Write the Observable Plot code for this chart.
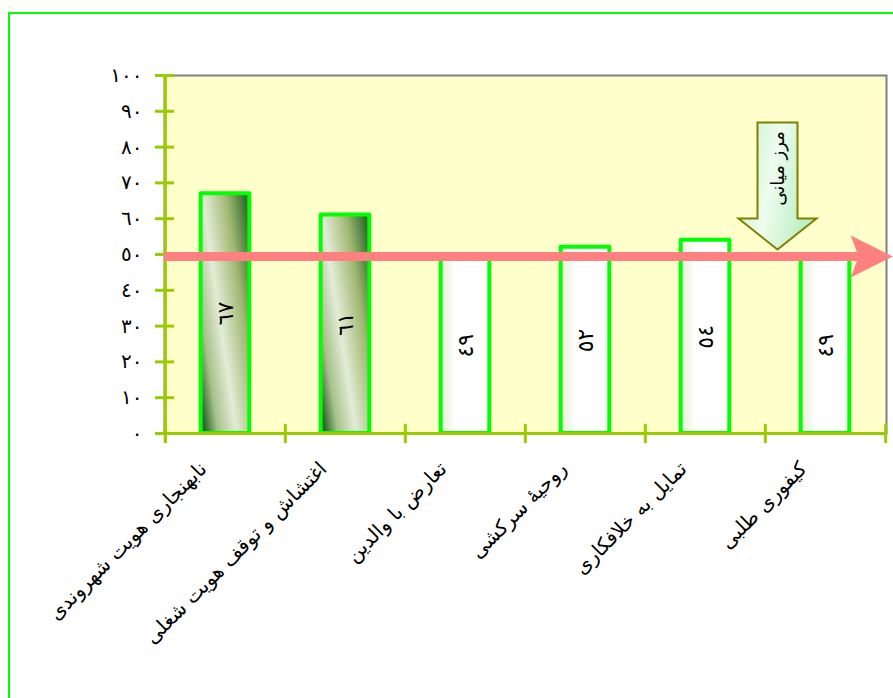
<!DOCTYPE html>
<html><head><meta charset="utf-8">
<script src="https://cdn.jsdelivr.net/npm/d3@7"></script>
<script src="https://cdn.jsdelivr.net/npm/@observablehq/plot@0.6"></script>
<style>
html,body{margin:0;padding:0;background:#fff;overflow:hidden;width:893px;height:698px}
#chart{position:absolute;left:0;top:0}
#border{position:absolute;left:8px;top:12px;width:1000px;height:1000px;border:2px solid #00ff00;box-sizing:border-box;pointer-events:none}
</style></head><body>
<div id="chart"></div><div id="border"></div>
<script>
// ---- data ----
const categories = ["نابهنجاری هویت شهروندی","اغتشاش و توقف هویت شغلی","تعارض با والدین","روحیهٔ سرکشی","تمایل به خلافکاری","کیفوری طلبی"];
const values = [67, 61, 49, 52, 54, 49];
const highlighted = [true, true, false, false, false, false];
const yTicks = [0, 10, 20, 30, 40, 50, 60, 70, 80, 90, 100];
const midpoint = 50;
const midpointLabel = "مرز میانی";
const calloutCategory = "کیفوری طلبی";

// ---- helpers ----
const digits = "٠١٢٣٤٥٦٧٨٩";
const ar = n => String(n).replace(/\d/g, d => digits[d]);
const data = categories.map((c, i) => ({c, v: values[i], h: highlighted[i]}));

const W = 893, H = 698;
const mL = 164, mR = 7, mT = 75, mB = 265;
const step = (W - mL - mR) / categories.length;
const inset = (step - 49) / 2;
const font = "'DejaVu Sans', sans-serif";

const headRight = {draw(ctx) {
  ctx.moveTo(21, 0); ctx.lineTo(-21, -21); ctx.lineTo(-13, 0); ctx.lineTo(-21, 21); ctx.closePath();
}};
const blockDown = {draw(ctx) {
  ctx.moveTo(-20, -127); ctx.lineTo(20, -127); ctx.lineTo(20, -31); ctx.lineTo(39, -31);
  ctx.lineTo(0, 0); ctx.lineTo(-39, -31); ctx.lineTo(-20, -31); ctx.closePath();
}};

const axisGreen = "#99cc00";

const chart = Plot.plot({
  width: W, height: H,
  marginLeft: mL, marginRight: mR, marginTop: mT, marginBottom: mB,
  style: {fontFamily: font, background: "transparent"},
  x: {domain: categories, padding: 0, axis: null},
  y: {domain: [0, 100], axis: null},
  marks: [
    Plot.frame({fill: "#ffffcc", stroke: "#808080", strokeWidth: 2}),
    Plot.rectY(data, {filter: d => d.h, x: "c", y: "v", fill: "url(#barDark)", stroke: "#00ff00", strokeWidth: 4, strokeLinejoin: "round", insetLeft: inset, insetRight: inset}),
    Plot.rectY(data, {filter: d => !d.h, x: "c", y: "v", fill: "url(#barLight)", stroke: "#00ff00", strokeWidth: 4, strokeLinejoin: "round", insetLeft: inset, insetRight: inset}),
    Plot.text(data, {x: "c", y: d => d.v / 2, text: d => ar(d.v), rotate: -90, fontSize: 22, fill: "#000"}),
    // axes lines and ticks
    Plot.ruleY([0], {stroke: axisGreen, strokeWidth: 3, insetLeft: -9}),
    Plot.ruleX([categories[0]], {dx: -step / 2, y1: -2.8, y2: 100, stroke: axisGreen, strokeWidth: 3}),
    Plot.ruleX(categories, {dx: -step / 2, y1: -2.8, y2: 2.5, stroke: axisGreen, strokeWidth: 3}),
    Plot.ruleX([categories[categories.length - 1]], {dx: step / 2, y1: -2.8, y2: 2.5, stroke: axisGreen, strokeWidth: 3}),
    Plot.axisY(yTicks, {anchor: "left", tickSize: 19, dx: 10, tickPadding: 13, stroke: axisGreen, strokeWidth: 3, fill: "#000", fontSize: 20, tickFormat: ar, label: null}),
    // midpoint arrow
    Plot.ruleY([midpoint], {stroke: "#ff8080", strokeWidth: 9, dy: 2, insetRight: 24}),
    Plot.dot([midpoint], {y: d => d, x: () => categories[categories.length - 1], dx: step / 2 - 14, dy: 2, symbol: headRight, fill: "#ff8080", stroke: "none"}),
    // callout
    Plot.dot([midpoint], {y: d => d, x: () => calloutCategory, dx: -48, dy: -5, symbol: blockDown, fill: "url(#callout)", stroke: "#808000", strokeWidth: 2}),
    Plot.text([midpointLabel], {y: () => midpoint, x: () => calloutCategory, dx: -47, dy: -86, text: d => d, rotate: -90, fontSize: 18, fill: "#000"}),
    // category labels
    Plot.text(data, {x: "c", y: 0, text: "c", rotate: -45, textAnchor: "end", dx: -22, dy: 32, fontSize: 20, fill: "#000"})
  ]
});

const svg = d3.select(chart);
svg.insert("defs", ":first-child").html(`
  <linearGradient id="barDark" x1="0" y1="0.85" x2="1" y2="0.15">
    <stop offset="0" stop-color="#2c6a2c"/>
    <stop offset="0.17" stop-color="#a6c08a"/>
    <stop offset="0.42" stop-color="#e3ecd6"/>
    <stop offset="0.75" stop-color="#a0b771"/>
    <stop offset="1" stop-color="#346f30"/>
  </linearGradient>
  <linearGradient id="barLight" x1="0" y1="0" x2="1" y2="0">
    <stop offset="0" stop-color="#e6efd2"/>
    <stop offset="0.3" stop-color="#ffffff"/>
    <stop offset="1" stop-color="#ffffff"/>
  </linearGradient>
  <linearGradient id="callout" x1="0" y1="0" x2="1" y2="0.3">
    <stop offset="0" stop-color="#bff2c4"/>
    <stop offset="0.5" stop-color="#eefcef"/>
    <stop offset="1" stop-color="#bcefc2"/>
  </linearGradient>`);
document.getElementById("chart").appendChild(chart);
</script>
</body></html>
